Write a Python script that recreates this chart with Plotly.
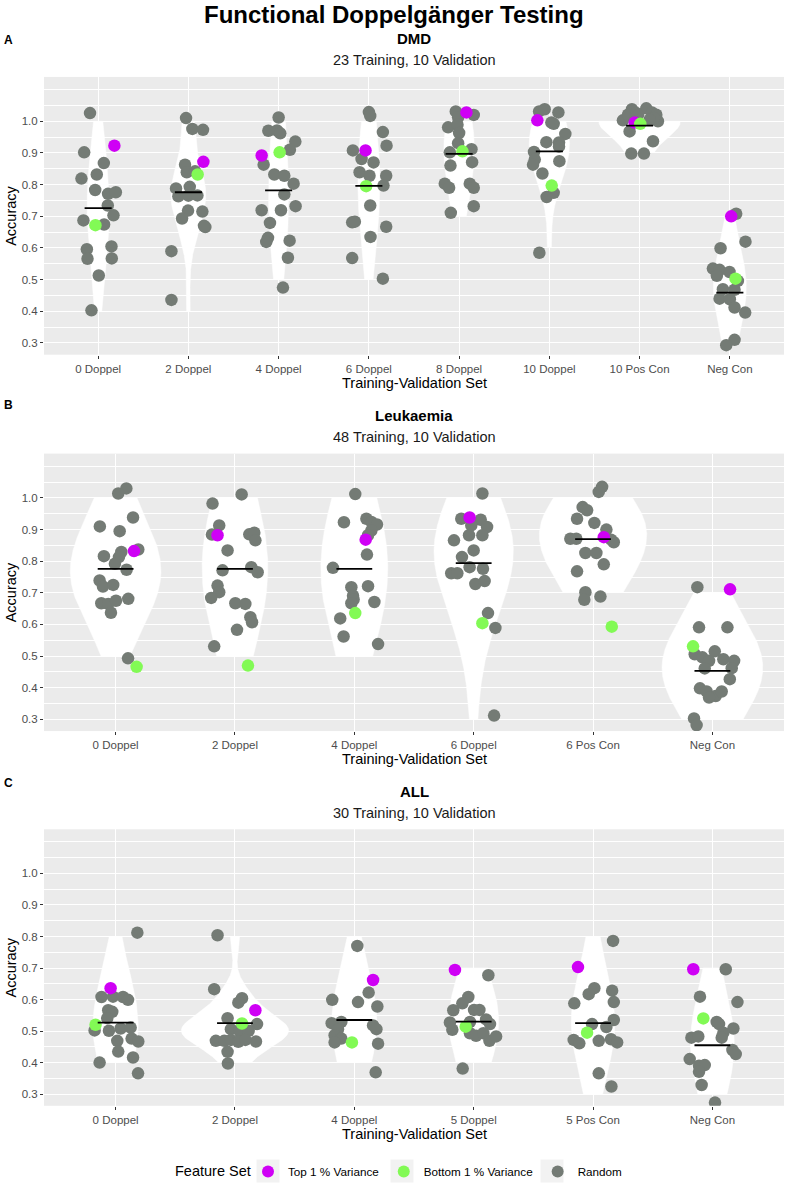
import numpy as np
import plotly.graph_objects as go

# ---------------- DATA ----------------
dmd_categories = ["0 Doppel", "2 Doppel", "4 Doppel", "6 Doppel", "8 Doppel", "10 Doppel", "10 Pos Con", "Neg Con"]
dmd_random_acc = [
    [1.026, 0.902, 0.868, 0.832, 0.819, 0.783, 0.771, 0.776, 0.734, 0.703, 0.687, 0.674, 0.596, 0.605, 0.566, 0.567, 0.513, 0.403],
    [1.010, 0.976, 0.973, 0.863, 0.839, 0.842, 0.793, 0.788, 0.763, 0.765, 0.766, 0.718, 0.715, 0.693, 0.666, 0.670, 0.590, 0.436],
    [1.012, 0.970, 0.971, 0.962, 0.936, 0.910, 0.863, 0.832, 0.828, 0.803, 0.769, 0.719, 0.719, 0.732, 0.679, 0.632, 0.619, 0.623, 0.569, 0.475],
    [1.029, 1.017, 0.966, 0.923, 0.908, 0.881, 0.870, 0.839, 0.828, 0.828, 0.797, 0.734, 0.681, 0.683, 0.667, 0.635, 0.568, 0.503],
    [1.031, 1.013, 1.020, 0.981, 0.989, 0.963, 0.931, 0.902, 0.912, 0.871, 0.860, 0.803, 0.790, 0.803, 0.790, 0.732, 0.711],
    [1.031, 1.038, 1.028, 0.996, 0.992, 0.960, 0.934, 0.933, 0.920, 0.903, 0.879, 0.863, 0.874, 0.835, 0.774, 0.761, 0.585],
    [1.038, 1.041, 1.003, 1.021, 1.026, 1.028, 1.021, 1.000, 0.968, 0.937, 0.898, 0.898, 1.010, 1.005, 1.020],
    [0.708, 0.620, 0.599, 0.535, 0.531, 0.524, 0.496, 0.512, 0.470, 0.468, 0.440, 0.438, 0.412, 0.396, 0.310, 0.293],
]
dmd_random_jitter = [
    [-0.09, -0.155, 0.063, -0.015, -0.185, -0.033, 0.11, 0.196, 0.107, 0.17, -0.163, 0.066, -0.125, 0.148, -0.118, 0.151, 0.007, -0.074],
    [-0.026, 0.044, 0.162, -0.037, -0.018, 0.074, 0.015, -0.137, -0.111, 0.0, 0.1, -0.004, 0.155, -0.07, 0.188, 0.173, -0.188, -0.188],
    [0.0, -0.114, -0.018, 0.018, 0.185, 0.125, -0.166, -0.048, 0.063, 0.166, 0.063, -0.188, 0.026, 0.188, -0.096, -0.118, -0.137, 0.122, 0.103, 0.048],
    [0.0, 0.015, 0.155, 0.196, -0.177, -0.081, 0.052, -0.103, 0.007, 0.192, 0.162, 0.015, -0.185, -0.155, 0.192, 0.018, -0.185, 0.155],
    [-0.037, -0.011, 0.162, -0.122, -0.018, 0.0, -0.011, -0.103, 0.137, 0.144, -0.096, -0.159, -0.111, 0.118, 0.162, 0.162, -0.092],
    [-0.114, -0.052, 0.1, 0.022, 0.048, 0.177, -0.033, 0.107, 0.107, -0.17, -0.162, -0.181, 0.111, -0.077, 0.048, -0.03, -0.111],
    [-0.085, 0.074, -0.185, -0.129, -0.037, 0.137, 0.185, 0.203, -0.111, 0.148, -0.092, 0.048, 0.16, 0.111, -0.018],
    [0.07, 0.173, -0.103, -0.188, -0.114, -0.004, 0.089, -0.144, -0.077, 0.052, -0.114, 0.0, 0.052, 0.17, 0.052, -0.04],
]
dmd_top_acc = [0.923, 0.872, 0.892, 0.908, 1.028, 1.003, 0.996, 0.700]
dmd_top_jitter = [0.18, 0.166, -0.188, -0.037, 0.081, -0.133, -0.055, 0.015]
dmd_bottom_acc = [0.672, 0.832, 0.902, 0.795, 0.905, 0.797, 0.992, 0.503]
dmd_bottom_jitter = [-0.03, 0.103, 0.011, -0.03, 0.037, 0.026, 0.007, 0.063]
dmd_mean = [0.726, 0.776, 0.782, 0.796, 0.897, 0.905, 0.986, 0.459]

leuk_categories = ["0 Doppel", "2 Doppel", "4 Doppel", "6 Doppel", "6 Pos Con", "Neg Con"]
leuk_random_acc = [
    [1.030, 1.014, 0.938, 0.910, 0.895, 0.837, 0.829, 0.813, 0.816, 0.792, 0.773, 0.739, 0.720, 0.725, 0.667, 0.665, 0.675, 0.681, 0.637, 0.493],
    [1.011, 0.982, 0.913, 0.884, 0.885, 0.890, 0.866, 0.834, 0.771, 0.781, 0.765, 0.723, 0.702, 0.684, 0.667, 0.665, 0.623, 0.607, 0.583, 0.531],
    [1.012, 0.923, 0.934, 0.924, 0.916, 0.897, 0.882, 0.821, 0.779, 0.718, 0.721, 0.691, 0.679, 0.667, 0.671, 0.619, 0.562, 0.538],
    [1.014, 0.934, 0.931, 0.908, 0.913, 0.866, 0.882, 0.882, 0.834, 0.813, 0.781, 0.776, 0.762, 0.762, 0.728, 0.737, 0.636, 0.589, 0.312],
    [1.035, 1.019, 0.971, 0.961, 0.934, 0.921, 0.900, 0.871, 0.871, 0.868, 0.860, 0.826, 0.826, 0.790, 0.768, 0.702, 0.678, 0.688],
    [0.718, 0.591, 0.591, 0.506, 0.515, 0.496, 0.485, 0.490, 0.485, 0.461, 0.462, 0.427, 0.398, 0.388, 0.374, 0.388, 0.369, 0.303, 0.282],
]
leuk_random_jitter = [
    [0.090, 0.022, 0.146, -0.132, 0.034, 0.190, 0.048, 0.028, -0.098, -0.006, 0.092, -0.134, -0.106, -0.020, -0.120, -0.062, 0.003, 0.106, -0.039, 0.104],
    [0.056, -0.188, -0.132, -0.193, 0.120, 0.162, 0.171, -0.062, -0.104, 0.137, 0.190, -0.146, -0.132, -0.199, 0.003, 0.087, 0.129, 0.143, 0.017, -0.174],
    [0.008, -0.087, 0.101, 0.143, 0.190, 0.143, 0.115, 0.106, -0.179, -0.025, 0.115, -0.011, -0.006, -0.025, 0.168, -0.118, -0.090, 0.199],
    [0.073, -0.104, 0.059, 0.112, -0.020, -0.165, -0.039, 0.073, 0.0, -0.098, -0.034, 0.078, -0.188, -0.137, 0.014, 0.092, 0.120, 0.182, 0.171],
    [0.076, 0.048, -0.087, -0.050, -0.134, 0.011, 0.112, -0.190, -0.140, 0.151, 0.174, -0.064, 0.028, 0.090, -0.134, -0.064, -0.073, 0.062],
    [-0.126, -0.112, 0.126, -0.148, 0.020, -0.084, -0.028, 0.092, 0.182, -0.064, 0.162, 0.146, -0.104, -0.048, 0.028, 0.078, -0.028, -0.154, -0.132],
]
leuk_top_acc = [0.832, 0.882, 0.868, 0.938, 0.876, 0.711]
leuk_top_jitter = [0.154, -0.146, 0.095, -0.034, 0.090, 0.148]
leuk_bottom_acc = [0.466, 0.470, 0.636, 0.604, 0.593, 0.531]
leuk_bottom_jitter = [0.176, 0.109, 0.008, 0.073, 0.157, -0.162]
leuk_mean = [0.776, 0.776, 0.776, 0.794, 0.870, 0.453]

all_categories = ["0 Doppel", "2 Doppel", "4 Doppel", "5 Doppel", "5 Pos Con", "Neg Con"]
all_random_acc = [
    [0.812, 0.608, 0.609, 0.608, 0.599, 0.566, 0.561, 0.541, 0.502, 0.501, 0.508, 0.511, 0.469, 0.476, 0.467, 0.435, 0.416, 0.400, 0.366],
    [0.804, 0.633, 0.604, 0.590, 0.541, 0.522, 0.506, 0.501, 0.501, 0.469, 0.469, 0.472, 0.466, 0.472, 0.467, 0.434, 0.397],
    [0.770, 0.622, 0.599, 0.592, 0.578, 0.529, 0.525, 0.518, 0.506, 0.506, 0.487, 0.476, 0.464, 0.460, 0.369],
    [0.677, 0.608, 0.588, 0.566, 0.567, 0.567, 0.527, 0.504, 0.529, 0.537, 0.522, 0.493, 0.485, 0.493, 0.469, 0.483, 0.381],
    [0.786, 0.636, 0.617, 0.628, 0.588, 0.592, 0.535, 0.513, 0.522, 0.472, 0.461, 0.469, 0.474, 0.464, 0.366, 0.324],
    [0.696, 0.609, 0.592, 0.529, 0.522, 0.508, 0.495, 0.479, 0.479, 0.483, 0.440, 0.427, 0.411, 0.390, 0.392, 0.371, 0.329, 0.273],
]
all_random_jitter = [
    [0.182, -0.118, -0.022, 0.062, 0.104, -0.062, -0.028, -0.070, -0.176, -0.056, 0.042, 0.126, 0.014, 0.134, 0.190, 0.022, 0.146, -0.134, 0.188],
    [-0.146, -0.174, 0.059, 0.028, -0.062, 0.185, -0.034, 0.036, 0.115, -0.160, -0.090, -0.034, 0.028, 0.087, 0.176, -0.062, -0.059],
    [0.025, 0.120, -0.185, 0.031, 0.193, -0.109, -0.190, 0.157, 0.185, -0.137, -0.165, -0.109, -0.165, 0.199, 0.179],
    [0.123, -0.045, -0.095, -0.171, 0.003, 0.048, -0.199, -0.179, -0.031, 0.104, 0.137, -0.031, 0.020, 0.081, 0.132, 0.188, -0.092],
    [0.168, 0.011, -0.036, 0.160, -0.157, 0.174, 0.174, 0.112, -0.008, -0.162, -0.115, 0.048, 0.151, 0.202, 0.048, 0.154],
    [0.112, -0.104, 0.210, 0.036, 0.056, 0.176, 0.092, 0.078, -0.176, -0.118, 0.168, 0.196, -0.190, -0.112, -0.064, -0.112, -0.090, 0.022],
]
all_top_acc = [0.636, 0.566, 0.662, 0.694, 0.703, 0.696]
all_top_jitter = [-0.042, 0.171, 0.157, -0.157, -0.126, -0.160]
all_bottom_acc = [0.520, 0.524, 0.464, 0.514, 0.495, 0.540]
all_bottom_jitter = [-0.168, 0.059, -0.020, -0.067, -0.050, -0.076]
all_mean = [0.527, 0.525, 0.535, 0.530, 0.525, 0.455]

# kernel bandwidth multipliers used for each violin (smoothing style)
dmd_violin_adjust = [2.0, 2.0, 2.0, 2.0, 2.0, 2.0, 2.2, 2.6]
leuk_violin_adjust = [3.0, 3.0, 3.0, 3.0, 3.0, 3.6]
all_violin_adjust = [4.0, 1.1, 4.0, 4.0, 4.0, 4.0]

panel_titles = ["DMD", "Leukaemia", "ALL"]
panel_subtitles = ["23 Training, 10 Validation", "48 Training, 10 Validation", "30 Training, 10 Validation"]
panel_tags = ["A", "B", "C"]
y_tick_values = [0.3, 0.4, 0.5, 0.6, 0.7, 0.8, 0.9, 1.0]
legend_names = ["Top 1 % Variance", "Bottom 1 % Variance", "Random"]

# ---------------- STYLE ----------------
W, H = 786, 1186
ML, MR = 44, 2
FONT = "Liberation Sans, Arial, sans-serif"
COL_TOP = "#CF00F5"
COL_BOT = "#82FA55"
COL_RND = "#747B75"
PANEL_BG = "#EBEBEB"
Y_RANGE = [0.263, 1.140]
panel_px = [(77, 355), (454, 731.7), (830, 1106.7)]


def pfy(px):
    return 1 - px / H


def pfx(px):
    return (px - ML) / (W - ML - MR)


def nrd0(x):
    x = np.asarray(x, float)
    n = len(x)
    hi = np.std(x, ddof=1)
    q75, q25 = np.percentile(x, [75, 25])
    lo = min(hi, (q75 - q25) / 1.34)
    if lo <= 0:
        lo = hi if hi > 0 else (abs(x[0]) if x[0] != 0 else 1.0)
    return 0.9 * lo * n ** (-0.2)


def kde(vals, adjust):
    v = np.asarray(vals, float)
    bw = nrd0(v) * adjust
    grid = np.linspace(v.min(), v.max(), 512)
    d = np.exp(-0.5 * ((grid[:, None] - v[None, :]) / bw) ** 2).sum(1) / (len(v) * bw * np.sqrt(2 * np.pi))
    return grid, d


panels = [
    (dmd_categories, dmd_random_acc, dmd_random_jitter, dmd_top_acc, dmd_top_jitter, dmd_bottom_acc, dmd_bottom_jitter, dmd_mean, dmd_violin_adjust),
    (leuk_categories, leuk_random_acc, leuk_random_jitter, leuk_top_acc, leuk_top_jitter, leuk_bottom_acc, leuk_bottom_jitter, leuk_mean, leuk_violin_adjust),
    (all_categories, all_random_acc, all_random_jitter, all_top_acc, all_top_jitter, all_bottom_acc, all_bottom_jitter, all_mean, all_violin_adjust),
]

fig = go.Figure()
layout_axes = {}
annotations = []

for p, (cats, racc, rjit, tacc, tjit, bacc, bjit, means, vadj) in enumerate(panels):
    sfx = "" if p == 0 else str(p + 1)
    xa, ya = "x" + sfx, "y" + sfx
    n = len(cats)
    dens = []
    for i, vals in enumerate(racc):
        disc = np.round(np.asarray(vals) * 10) / 10
        dens.append(kde(disc, vadj[i]))
    dmax = max(d.max() for _, d in dens)
    for i, (g, d) in enumerate(dens):
        half = 0.45 * d / dmax
        xs = np.concatenate([i - half, (i + half)[::-1]])
        ys = np.concatenate([g, g[::-1]])
        fig.add_trace(go.Scatter(x=xs, y=ys, mode="lines", fill="toself", fillcolor="white",
                                 line=dict(color="white", width=0.5), hoverinfo="skip",
                                 showlegend=False, xaxis=xa, yaxis=ya))
    rx, ry = [], []
    for i in range(n):
        rx += [i + j for j in rjit[i]]
        ry += list(racc[i])
    fig.add_trace(go.Scatter(x=rx, y=ry, mode="markers", name=legend_names[2], legendgroup="rnd",
                             legendrank=3, showlegend=(p == 0),
                             marker=dict(color=COL_RND, size=12.5, line=dict(width=0)),
                             xaxis=xa, yaxis=ya))
    fig.add_trace(go.Scatter(x=[i + tjit[i] for i in range(n)], y=tacc, mode="markers",
                             name=legend_names[0], legendgroup="top", legendrank=1, showlegend=(p == 0),
                             marker=dict(color=COL_TOP, size=12.5, line=dict(width=0)),
                             xaxis=xa, yaxis=ya))
    fig.add_trace(go.Scatter(x=[i + bjit[i] for i in range(n)], y=bacc, mode="markers",
                             name=legend_names[1], legendgroup="bot", legendrank=2, showlegend=(p == 0),
                             marker=dict(color=COL_BOT, size=12.5, line=dict(width=0)),
                             xaxis=xa, yaxis=ya))
    mx, my = [], []
    for i in range(n):
        mx += [i - 0.15, i + 0.15, None]
        my += [means[i], means[i], None]
    fig.add_trace(go.Scatter(x=mx, y=my, mode="lines", line=dict(color="black", width=1.8),
                             hoverinfo="skip", showlegend=False, xaxis=xa, yaxis=ya))

    top_px, bot_px = panel_px[p]
    layout_axes["xaxis" + sfx] = dict(
        domain=[0, 1], anchor=ya, range=[-0.6, n - 0.4], tickmode="array",
        tickvals=list(range(n)), ticktext=cats, showgrid=True, gridcolor="white", gridwidth=1.1,
        zeroline=False, showline=False, ticks="outside", ticklen=3, tickwidth=1, tickcolor="#333333",
        tickfont=dict(family=FONT, size=11.5, color="#4D4D4D"), fixedrange=True)
    layout_axes["yaxis" + sfx] = dict(
        domain=[pfy(bot_px), pfy(top_px)], anchor=xa, range=Y_RANGE, tickmode="array",
        tickvals=y_tick_values, ticktext=["%.1f" % v for v in y_tick_values],
        showgrid=True, gridcolor="white", gridwidth=1.1, zeroline=False, showline=False,
        ticks="outside", ticklen=3, tickwidth=1, tickcolor="#333333",
        tickfont=dict(family=FONT, size=11.5, color="#4D4D4D"),
        minor=dict(tickmode="array", tickvals=[0.35, 0.45, 0.55, 0.65, 0.75, 0.85, 0.95, 1.05, 1.1],
                   showgrid=True, gridcolor="white", gridwidth=0.55, ticks=""),
        fixedrange=True)

    annotations.append(dict(text="<b>%s</b>" % panel_titles[p], x=pfx(414), y=pfy(top_px - 38),
                            xref="paper", yref="paper", showarrow=False, xanchor="center", yanchor="middle",
                            font=dict(family=FONT, size=15, color="black")))
    annotations.append(dict(text=panel_subtitles[p], x=pfx(414), y=pfy(top_px - 16.5),
                            xref="paper", yref="paper", showarrow=False, xanchor="center", yanchor="middle",
                            font=dict(family=FONT, size=14.5, color="#1A1A1A")))
    annotations.append(dict(text="Training-Validation Set", x=pfx(414), y=pfy(bot_px + 28),
                            xref="paper", yref="paper", showarrow=False, xanchor="center", yanchor="middle",
                            font=dict(family=FONT, size=14.5, color="black")))
    annotations.append(dict(text="Accuracy", x=pfx(11), y=pfy((top_px + bot_px) / 2), textangle=-90,
                            xref="paper", yref="paper", showarrow=False, xanchor="center", yanchor="middle",
                            font=dict(family=FONT, size=14.5, color="black")))

tag_px = [40, 405, 784]
for p in range(3):
    annotations.append(dict(text="<b>%s</b>" % panel_tags[p], x=pfx(8), y=pfy(tag_px[p]),
                            xref="paper", yref="paper", showarrow=False, xanchor="center", yanchor="middle",
                            font=dict(family=FONT, size=12, color="black")))

annotations.append(dict(text="<b>Functional Doppelgänger Testing</b>", x=pfx(394), y=pfy(15),
                        xref="paper", yref="paper", showarrow=False, xanchor="center", yanchor="middle",
                        font=dict(family=FONT, size=24, color="black")))
annotations.append(dict(text="Feature Set", x=pfx(253), y=pfy(1172), xref="paper", yref="paper",
                        showarrow=False, xanchor="right", yanchor="middle",
                        font=dict(family=FONT, size=14.5, color="black")))

shapes = []
for cx in [268, 402, 552]:
    shapes.append(dict(type="rect", xref="paper", yref="paper", x0=pfx(cx - 11.5), x1=pfx(cx + 11.5),
                       y0=pfy(1172 + 11.5), y1=pfy(1172 - 11.5), fillcolor="#F2F2F2",
                       line=dict(width=0), layer="below"))

fig.update_layout(
    width=W, height=H, template="none",
    margin=dict(l=ML, r=MR, t=0, b=0, pad=0),
    paper_bgcolor="white", plot_bgcolor=PANEL_BG,
    font=dict(family=FONT, color="black"),
    showlegend=True,
    legend=dict(orientation="h", x=pfx(248), xanchor="left", y=pfy(1172), yanchor="middle",
                font=dict(family=FONT, size=11.7, color="black"), bgcolor="rgba(0,0,0,0)",
                itemsizing="constant", traceorder="normal"),
    annotations=annotations,
    shapes=shapes,
    **layout_axes,
)

fig.write_html("out.html", config={"displayModeBar": False},
               post_script="document.body.style.margin='0';document.body.style.padding='0';")
